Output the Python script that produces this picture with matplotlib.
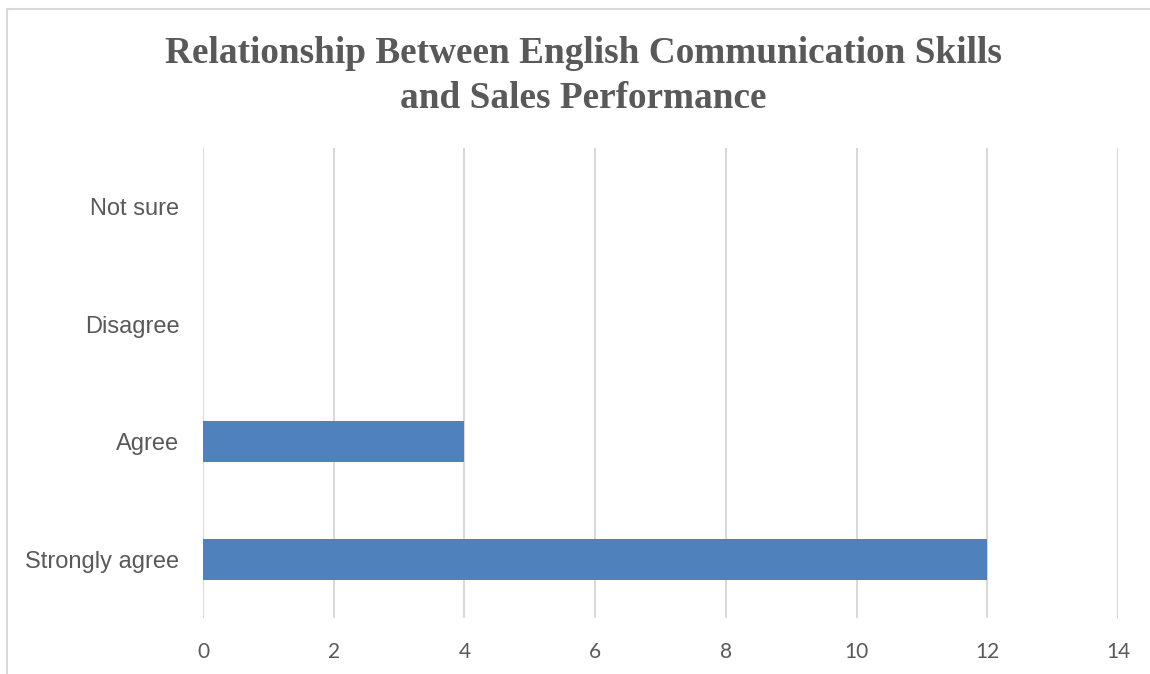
import matplotlib
matplotlib.use("Agg")
import matplotlib.pyplot as plt
from matplotlib.patches import Rectangle

categories = ["Strongly agree", "Agree", "Disagree", "Not sure"]
counts = [12, 4, 0, 0]
x_ticks = [0, 2, 4, 6, 8, 10, 12, 14]
title = "Relationship Between English Communication Skills\nand Sales Performance"

W, H = 1150, 674
fig = plt.figure(figsize=(W / 100, H / 100), dpi=100)

# chart frame, running off the right and bottom edges
fig.patches.append(Rectangle((7 / W, -0.1), 1.2, 1 - 9 / H + 0.1,
                             transform=fig.transFigure, fill=False,
                             edgecolor="#D9D9D9", linewidth=1.5))

left, right = 203 / W, 1118 / W
top, bottom = 1 - 148 / H, 1 - 618 / H
ax = fig.add_axes([left, bottom, right - left, top - bottom])

ypos = list(range(len(categories)))
ax.barh(ypos, counts, height=0.35, color="#4F81BD", zorder=3)
ax.set_ylim(-0.5, len(categories) - 0.5)
ax.set_xlim(0, 14)
ax.set_xticks(x_ticks)
ax.set_xticklabels([str(t) for t in x_ticks], family=["Lato", "DejaVu Sans"],
                   fontsize=15, color="#595959")
ax.set_yticks(ypos)
ax.set_yticklabels(categories, family=["Liberation Sans", "DejaVu Sans"],
                   fontsize=17, color="#595959")
ax.tick_params(axis="both", length=0)
ax.tick_params(axis="x", pad=17)
ax.tick_params(axis="y", pad=17)
ax.grid(axis="x", color="#D9D9D9", linewidth=1.5, zorder=0)
for s in ax.spines.values():
    s.set_visible(False)

fig.text(0.5 + 8 / W, 1 - 76 / H, title, ha="center", va="center",
         family=["Liberation Serif", "DejaVu Serif"], fontweight="bold",
         fontsize=26.8, color="#595959", linespacing=1.35)

fig.savefig("out.png", dpi=100)
